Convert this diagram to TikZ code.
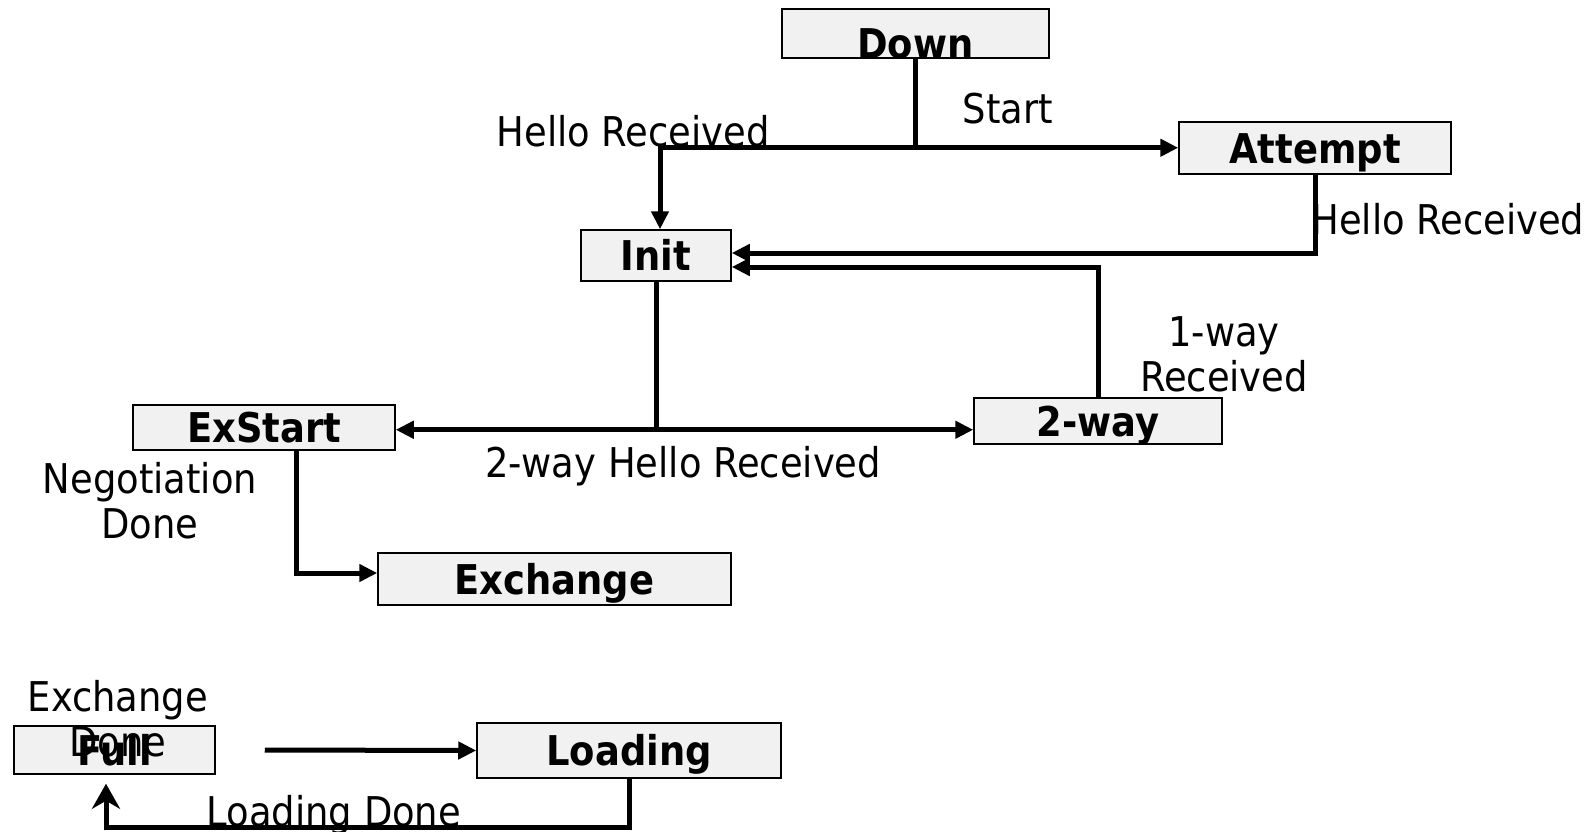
\documentclass[tikz,border=0pt]{standalone}
\usepackage{fontspec}
\setmainfont{DejaVu Sans Condensed}
\usetikzlibrary{arrows.meta}

\begin{document}
\begin{tikzpicture}[x=0.5pt,y=-0.5pt,
    font=\fontsize{20.5}{22.5}\selectfont,
    state/.style={draw,line width=0.75pt,fill=gray!11,inner sep=0pt,
      font=\fontsize{20.5}{22.5}\selectfont\bfseries,text height=15pt,text depth=0pt},
    cond/.style={align=center,inner sep=0pt},
    trans/.style={line width=2.5pt,-{Triangle[length=9pt,width=8.5pt]}},
    plain/.style={line width=2.5pt}]
  \useasboundingbox (0,0) rectangle (1596,831);

  % states
  \node[state,minimum width=133.5pt,minimum height=24.5pt,text height=24.5pt] (down) at (915.5,33.5) {Down};
  \node[state,minimum width=136pt,minimum height=26pt] (attempt) at (1315,148) {Attempt};
  \node[state,minimum width=75pt,minimum height=25.5pt] (init) at (656,255.5) {Init};
  \node[state,minimum width=124pt,minimum height=23pt] (twoway) at (1098,421) {2-way};
  \node[state,minimum width=131pt,minimum height=22.5pt] (exstart) at (264,427.5) {ExStart};
  \node[state,minimum width=176.5pt,minimum height=26pt] (exchange) at (554.5,579) {Exchange};
  \node[state,minimum width=100.5pt,minimum height=24pt] (full) at (114.5,750) {Full};
  \node[state,minimum width=152pt,minimum height=27.5pt] (loading) at (629,750.5) {Loading};

  % conditions
  \node[cond] (start) at (1008,109) {Start};
  \node[cond] (hellodown) at (633,131) {Hello Received};
  \node[cond,anchor=west] (helloatt) at (1311,219) {Hello Received};
  \node[cond] (oneway) at (1224,354) {1-way\\Received};
  \node[cond] (twohello) at (683,466) {2-way Hello Received};
  \node[cond] (negodone) at (150,501) {Negotiation\\Done};
  \node[cond] (exdone) at (118,719) {Exchange\\Done};
  \node[cond] (loaddone) at (334,815) {Loading Done};

  % transitions
  \draw[plain] (down.south) -- ++(0,89) coordinate (fork);
  \draw[trans] (fork) -- (fork -| attempt.west);
  \draw[trans] (fork) -| ([xshift=2pt]init.north);
  \draw[trans] (attempt.south) |- ([yshift=1.25pt]init.east);
  \draw[trans] (twoway.north) |- ([yshift=-5.75pt]init.east);
  \draw[plain] (init.south) -- ++(0,148) coordinate (split);
  \draw[trans] (split) -- (split -| exstart.east);
  \draw[trans] (split) -- (split -| twoway.west);
  \draw[trans] ([xshift=16pt]exstart.south) |- ([yshift=3pt]exchange.west);
  \draw[trans] ([xshift=24.5pt]full.east) -- (loading.west);
  \draw[line width=2.5pt,-{Stealth[length=12.5pt,width=14pt,inset=4pt]},shorten >=4.5pt]
    (loading.south) -- ++(0,49) -| ([xshift=-4.25pt]full.south);
\end{tikzpicture}
\end{document}
